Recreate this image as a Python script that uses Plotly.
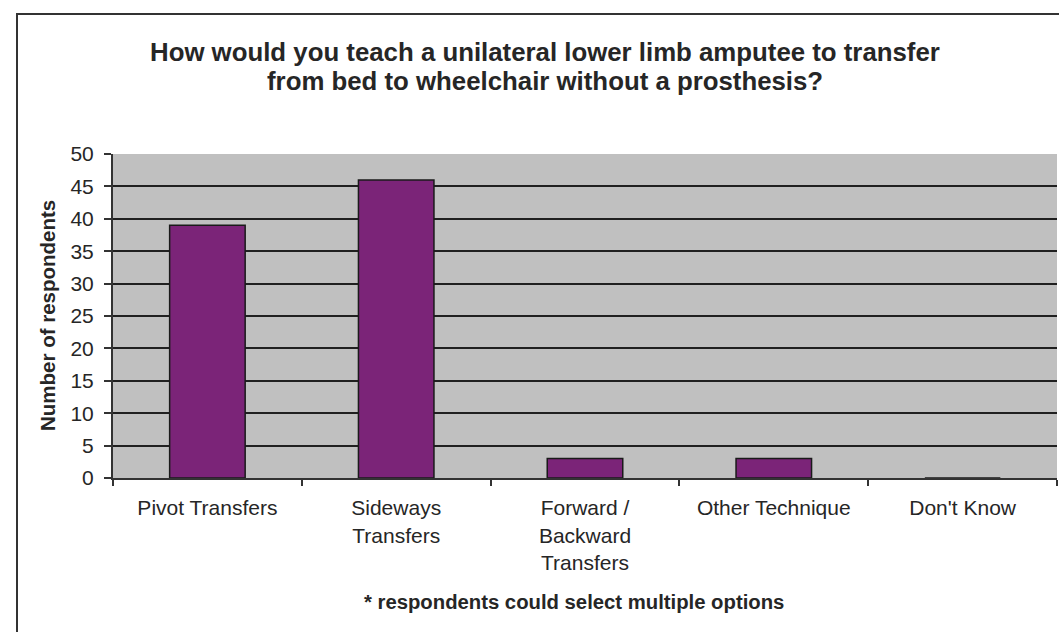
import plotly.graph_objects as go

# Survey responses: transfer technique taught without a prosthesis
categories = ["Pivot Transfers", "Sideways<br>Transfers", "Forward /<br>Backward<br>Transfers",
              "Other Technique", "Don't Know"]
respondents = [39, 46, 3, 3, 0]
y_ticks = [0, 5, 10, 15, 20, 25, 30, 35, 40, 45, 50]
title_lines = ["How would you teach a unilateral lower limb amputee to transfer",
               "from bed to wheelchair without a prosthesis?"]

W, H = 1059, 632
L, R, T, B = 113, 2, 154, 154
plot_w = W - L - R
plot_h = H - T - B

FONT = "Liberation Sans, Arial, sans-serif"
TXT = "#262626"


def px_x(x):
    return (x - L) / plot_w


def px_y(y):
    return (H - B - y) / plot_h


fig = go.Figure(
    go.Bar(
        x=categories,
        y=respondents,
        width=0.4,
        marker=dict(color="#7B2478", line=dict(color="#1a1a1a", width=1.5)),
    )
)

fig.update_layout(
    width=W,
    height=H,
    margin=dict(l=L, r=R, t=T, b=B, autoexpand=False),
    paper_bgcolor="white",
    plot_bgcolor="#C0C0C0",
    showlegend=False,
    font=dict(family=FONT, color=TXT, size=21),
)

fig.update_xaxes(
    type="category",
    tickson="boundaries",
    ticks="outside",
    ticklen=6,
    tickcolor="#333333",
    tickwidth=2,
    showline=True,
    linecolor="#333333",
    linewidth=2,
    showgrid=False,
    tickfont=dict(family=FONT, size=21, color=TXT),
    ticklabelstandoff=10,
)

fig.update_yaxes(
    range=[0, 50],
    tickvals=y_ticks,
    ticks="outside",
    ticklen=7,
    tickcolor="#333333",
    tickwidth=2,
    showline=True,
    linecolor="#333333",
    linewidth=2,
    showgrid=True,
    gridcolor="#202020",
    gridwidth=2,
    zeroline=False,
    tickfont=dict(family=FONT, size=21, color=TXT),
    ticklabelstandoff=6,
)

# two-line chart title
for line, yc in zip(title_lines, [52, 81]):
    fig.add_annotation(
        text=f"<b>{line}</b>",
        xref="paper", yref="paper",
        x=px_x(545), y=px_y(yc),
        xanchor="center", yanchor="middle",
        showarrow=False,
        font=dict(family=FONT, size=25.8, color=TXT),
    )

# y-axis title
fig.add_annotation(
    text="<b>Number of respondents</b>",
    textangle=-90,
    xref="paper", yref="paper",
    x=px_x(47), y=px_y(316),
    xanchor="center", yanchor="middle",
    showarrow=False,
    font=dict(family=FONT, size=20.5, color=TXT),
)

# footnote
fig.add_annotation(
    text="<b>* respondents could select multiple options</b>",
    xref="paper", yref="paper",
    x=px_x(574), y=px_y(602),
    xanchor="center", yanchor="middle",
    showarrow=False,
    font=dict(family=FONT, size=20.3, color=TXT),
)

# chart frame
fig.add_shape(
    type="rect", xref="paper", yref="paper",
    x0=px_x(17), x1=px_x(W + 20),
    y0=px_y(H + 20), y1=px_y(14),
    line=dict(color="#333333", width=2),
    fillcolor="rgba(0,0,0,0)",
    layer="above",
)

fig.write_html("out.html")
